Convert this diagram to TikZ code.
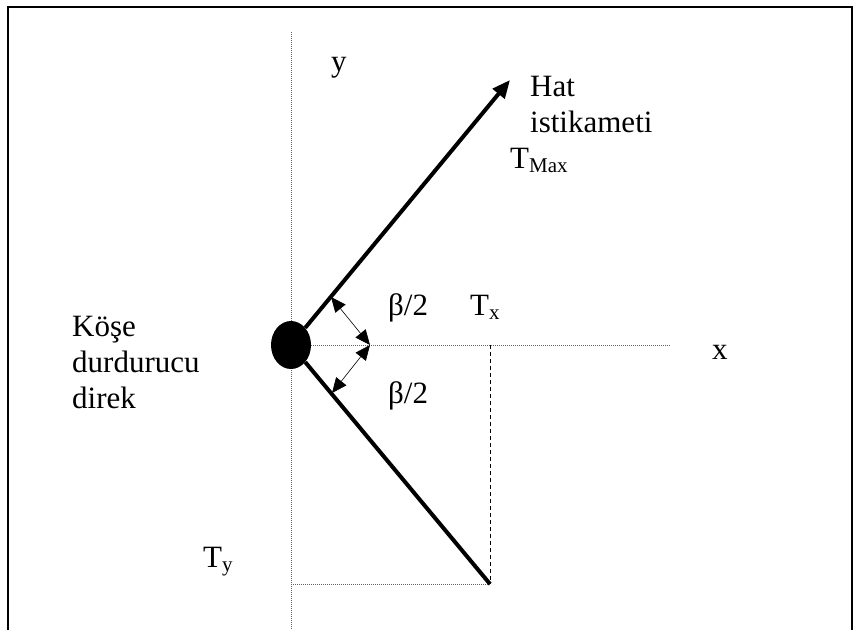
\documentclass[tikz,border=0pt]{standalone}
\usepackage{fontspec}
\setmainfont{Liberation Serif}
\usetikzlibrary{arrows.meta, positioning, calc, shapes.geometric}
\newcommand{\lowidx}[1]{{\fontsize{21}{21}\selectfont\raisebox{-4pt}{#1}}}

\begin{document}
\begin{tikzpicture}[x=1pt, y=-1pt,
    font=\fontsize{31}{36}\selectfont,
    lbl/.style={anchor=base west, inner sep=0pt, align=left},
    force/.style={line width=4pt},
    guide/.style={gray!80!black, line width=0.9pt, dash pattern=on 1pt off 1pt},
    proj/.style={line width=0.9pt, dash pattern=on 4pt off 3pt},
    halfangle/.style={line width=0.6pt, {Triangle[length=15pt,width=13pt]}-{Triangle[length=15pt,width=13pt]}}]
  \useasboundingbox (0,0) rectangle (860,630);
  \draw[line width=1.5pt] (8,630) -- (8,7) -- (852,7) -- (852,630);

  \coordinate (ytop) at (291,32);
  \coordinate (ybot) at (291,630);
  \coordinate (xend) at (670,345);
  \coordinate (pivot) at (370,345);
  \coordinate (tmax) at (510,80);
  \coordinate (tend) at (490,584);
  \coordinate (tx) at (490,345);
  \coordinate (ty) at (291,584);
  \coordinate (upa) at (331,297);
  \coordinate (loa) at (332,393);

  \draw[guide] (ytop) -- (ybot);
  \draw[guide] (291,345) -- (xend);
  \draw[guide] (ty) -- (tend);
  \draw[proj] (tx) -- (tend);

  \node[ellipse, fill=black, minimum width=40pt, minimum height=48pt, inner sep=0pt] (pole) at (291,345) {};
  \draw[force, -{Triangle[length=18pt,width=15pt]}] (pole) -- (tmax);
  \draw[force] (pole) -- (tend);

  \draw[halfangle] (upa) -- (pivot);
  \draw[halfangle] (pivot) -- (loa);

  \node[lbl] (ylbl) at (331,71) {y};
  \node[lbl] (xlbl) at (712,359) {x};
  \node[lbl] (hat) at (530,132) {Hat\\istikameti};
  \node[lbl] (tmaxlbl) at (510,168) {T\lowidx{Max}};
  \node[lbl] (bup) at (388,315) {β/2};
  \node[lbl] (txlbl) at (470,315) {T\lowidx{x}};
  \node[lbl] (blo) at (388,403) {β/2};
  \node[lbl] (polelbl) at (72,408) {Köşe\\durdurucu\\direk};
  \node[lbl] (tylbl) at (203,567) {T\lowidx{y}};
\end{tikzpicture}
\end{document}
